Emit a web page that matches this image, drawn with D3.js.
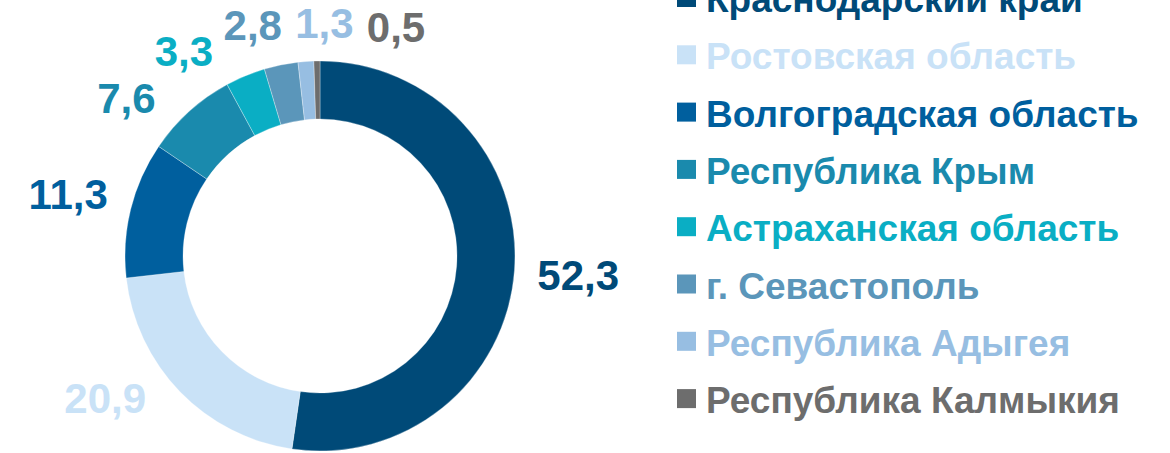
<!DOCTYPE html>
<html><head><meta charset="utf-8">
<script src="https://cdn.jsdelivr.net/npm/d3@7"></script>
<style>html,body{margin:0;padding:0;background:#fff;overflow:hidden}</style>
</head><body>
<svg id="chart" width="1170" height="453"></svg>
<script>
const categories = ["Краснодарский край","Ростовская область","Волгоградская область","Республика Крым","Астраханская область","г. Севастополь","Республика Адыгея","Республика Калмыкия"];
const values = [52.3, 20.9, 11.3, 7.6, 3.3, 2.8, 1.3, 0.5];
const valueLabels = ["52,3","20,9","11,3","7,6","3,3","2,8","1,3","0,5"];
const colors = ["#004a78","#c9e2f7","#005f9e","#1a8aad","#0aaec4","#5b96ba","#97bee2","#6d6d6d"];

const W = 1170, H = 453;
const svg = d3.select("#chart");
const cx = 320, cy = 256, rOuter = 195, rInner = 137;
const labelFont = 42, labelGap = 22, minGapDeg = 17.3, maxLabelY = 398;

const data = categories.map((c,i)=>({name:c, value:values[i], label:valueLabels[i], color:colors[i], i}));
const pie = d3.pie().value(d=>d.value).sort(null);
const arcs = pie(data);
const arc = d3.arc().innerRadius(rInner).outerRadius(rOuter);

const g = svg.append("g").attr("transform",`translate(${cx},${cy})`);
g.selectAll("path").data(arcs).join("path")
  .attr("d", arc).attr("fill", d=>d.data.color)
  .attr("stroke","#fff").attr("stroke-width",0.5).attr("stroke-opacity",0.6);

// label layout: mid-angle, spread colliding clusters evenly around their mean
const toDeg = a => a*180/Math.PI;
let items = arcs.map(a=>({a, ang: toDeg((a.startAngle+a.endAngle)/2)}));
items.sort((p,q)=>p.ang-q.ang);
let clusters = items.map(it=>({members:[it]}));
function layoutCluster(cl){
  const mean = d3.mean(cl.members, d=>d.ang);
  const span = (cl.members.length-1)*minGapDeg;
  cl.start = mean - span/2; cl.end = mean + span/2;
}
clusters.forEach(layoutCluster);
let merged = true;
while (merged) {
  merged = false;
  for (let k=0; k<clusters.length-1; k++) {
    if (clusters[k+1].start - clusters[k].end < minGapDeg) {
      clusters[k].members = clusters[k].members.concat(clusters[k+1].members);
      clusters.splice(k+1,1);
      layoutCluster(clusters[k]);
      merged = true; break;
    }
  }
}
clusters.forEach(cl=>cl.members.forEach((d,k)=> d.pos = cl.start + k*minGapDeg));

const lg = svg.append("g");
items.forEach(it=>{
  const t = lg.append("text")
    .attr("font-family","'Liberation Sans', Arial, sans-serif")
    .attr("font-weight","bold").attr("font-size",labelFont)
    .attr("fill", it.a.data.color).attr("text-anchor","middle")
    .text(it.a.data.label);
  const bb = t.node().getBBox();
  const w = bb.width, h = labelFont*0.76;
  const th = it.pos*Math.PI/180;
  const s = Math.sin(th), c = -Math.cos(th);
  const r = rOuter + labelGap + Math.abs(s)*w/2 + Math.abs(c)*h/2;
  let x = cx + r*s, y = cy + r*c;
  if (y > maxLabelY) {
    const dy = maxLabelY - cy;
    const dx = Math.sqrt(Math.max(r*r - dy*dy,0));
    x = cx + (s<0?-dx:dx); y = maxLabelY;
  }
  t.attr("x", x).attr("y", y + labelFont*0.358);
});

// legend
const legX = 677, legTop = 12, legStep = 57.3, sq = 19;
const leg = svg.append("g");
data.forEach((d,i)=>{
  const base = legTop + i*legStep;
  leg.append("rect").attr("x",legX).attr("y",base-5-sq).attr("width",sq).attr("height",sq).attr("fill",d.color);
  leg.append("text").attr("x",legX+29).attr("y",base)
    .attr("font-family","'Liberation Sans', Arial, sans-serif")
    .attr("font-weight","bold").attr("font-size",37)
    .attr("fill",d.color).text(d.name);
});
</script>
</body></html>
